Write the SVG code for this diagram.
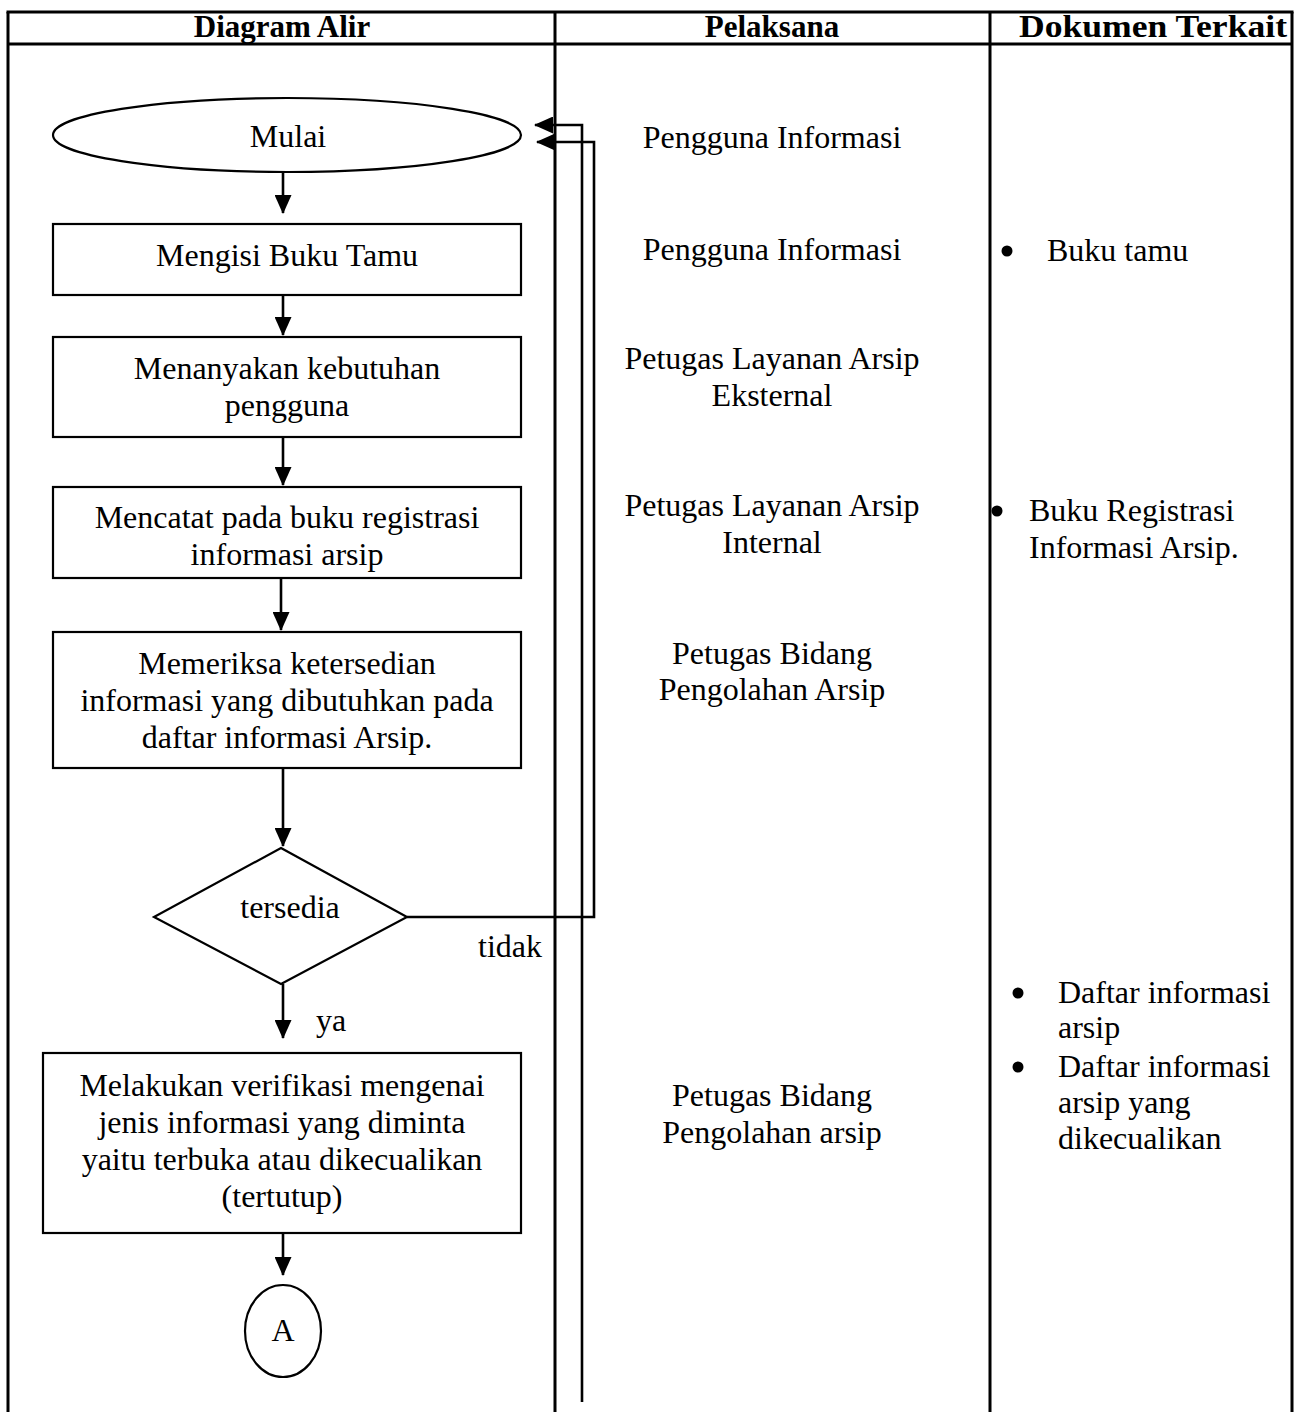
<svg xmlns="http://www.w3.org/2000/svg" width="1298" height="1412" viewBox="0 0 1298 1412">
<style>
.t{font-family:"Liberation Serif","Times New Roman",serif;font-size:32px;fill:#000}
.c{text-anchor:middle}
.h{font-family:"Liberation Serif","Times New Roman",serif;font-size:31px;font-weight:bold;text-anchor:middle;fill:#000}
.grid{stroke:#000;stroke-width:3;fill:none}
.shape{stroke:#000;stroke-width:2.2;fill:#fff}
.conn{stroke:#000;stroke-width:2.6;fill:none}
</style>
<defs>
<marker id="ah" markerUnits="userSpaceOnUse" markerWidth="19" markerHeight="17" refX="18" refY="8.5" orient="auto">
<path d="M0,0 L19,8.5 L0,17 Z" fill="#000"/>
</marker>
</defs>
<rect width="1298" height="1412" fill="#fff"/>
<g id="table">
<line class="grid" x1="6.5" y1="12" x2="1293.5" y2="12"/>
<line class="grid" x1="8" y1="44" x2="1292" y2="44"/>
<line class="grid" x1="8" y1="12" x2="8" y2="1412"/>
<line class="grid" x1="555" y1="12" x2="555" y2="1412"/>
<line class="grid" x1="990" y1="12" x2="990" y2="1412"/>
<line class="grid" x1="1292" y1="12" x2="1292" y2="1412"/>
<text class="h" x="282" y="37">Diagram Alir</text>
<text class="h" x="772" y="37">Pelaksana</text>
<text class="h" x="1153" y="37" textLength="268" lengthAdjust="spacingAndGlyphs">Dokumen Terkait</text>
</g>
<g id="connectors">
<line class="conn" x1="283" y1="172" x2="283" y2="213" marker-end="url(#ah)"/>
<line class="conn" x1="283" y1="295" x2="283" y2="335" marker-end="url(#ah)"/>
<line class="conn" x1="283" y1="437" x2="283" y2="485" marker-end="url(#ah)"/>
<line class="conn" x1="281" y1="578" x2="281" y2="630" marker-end="url(#ah)"/>
<line class="conn" x1="283" y1="768" x2="283" y2="846" marker-end="url(#ah)"/>
<line class="conn" x1="283" y1="984" x2="283" y2="1038" marker-end="url(#ah)"/>
<line class="conn" x1="283" y1="1233" x2="283" y2="1275" marker-end="url(#ah)"/>
<polyline class="conn" points="407,917 594,917 594,142 537,142" marker-end="url(#ah)"/>
<polyline class="conn" points="582,1402 582,125 535,125" marker-end="url(#ah)"/>
<text class="t" x="478" y="957">tidak</text>
<text class="t" x="316" y="1031">ya</text>
</g>
<g id="n-mulai">
<ellipse class="shape" cx="287" cy="135" rx="234" ry="37"/>
<text class="t c" x="288" y="147">Mulai</text>
</g>
<g id="n-bukutamu">
<rect class="shape" x="53" y="224" width="468" height="71"/>
<text class="t c" x="287" y="266">Mengisi Buku Tamu</text>
</g>
<g id="n-menanyakan">
<rect class="shape" x="53" y="337" width="468" height="100"/>
<text class="t c" x="287" y="379">Menanyakan kebutuhan</text>
<text class="t c" x="287" y="416">pengguna</text>
</g>
<g id="n-mencatat">
<rect class="shape" x="53" y="487" width="468" height="91"/>
<text class="t c" x="287" y="528">Mencatat pada buku registrasi</text>
<text class="t c" x="287" y="565">informasi arsip</text>
</g>
<g id="n-memeriksa">
<rect class="shape" x="53" y="632" width="468" height="136"/>
<text class="t c" x="287" y="674">Memeriksa ketersedian</text>
<text class="t c" x="287" y="711">informasi yang dibutuhkan pada</text>
<text class="t c" x="287" y="748">daftar informasi Arsip.</text>
</g>
<g id="n-tersedia">
<polygon class="shape" points="281,848 407,917 281,984 154,917"/>
<text class="t c" x="290" y="918">tersedia</text>
</g>
<g id="n-verifikasi">
<rect class="shape" x="43" y="1053" width="478" height="180"/>
<text class="t c" x="282" y="1096">Melakukan verifikasi mengenai</text>
<text class="t c" x="282" y="1133">jenis informasi yang diminta</text>
<text class="t c" x="282" y="1170">yaitu terbuka atau dikecualikan</text>
<text class="t c" x="282" y="1207">(tertutup)</text>
</g>
<g id="n-a">
<ellipse class="shape" cx="283" cy="1331" rx="38" ry="46"/>
<text class="t c" x="283" y="1341">A</text>
</g>
<g id="pelaksana">
<text class="t c" x="772" y="148">Pengguna Informasi</text>
<text class="t c" x="772" y="260">Pengguna Informasi</text>
<text class="t c" x="772" y="369">Petugas Layanan Arsip</text>
<text class="t c" x="772" y="406">Eksternal</text>
<text class="t c" x="772" y="516">Petugas Layanan Arsip</text>
<text class="t c" x="772" y="553">Internal</text>
<text class="t c" x="772" y="664">Petugas Bidang</text>
<text class="t c" x="772" y="700">Pengolahan Arsip</text>
<text class="t c" x="772" y="1106">Petugas Bidang</text>
<text class="t c" x="772" y="1143">Pengolahan arsip</text>
</g>
<g id="dokumen">
<circle cx="1007" cy="251" r="5.5"/>
<text class="t" x="1047" y="261">Buku tamu</text>
<circle cx="997" cy="511" r="5.5"/>
<text class="t" x="1029" y="521">Buku Registrasi</text>
<text class="t" x="1029" y="558">Informasi Arsip.</text>
<circle cx="1018" cy="993" r="5.5"/>
<text class="t" x="1058" y="1003">Daftar informasi</text>
<text class="t" x="1058" y="1038">arsip</text>
<circle cx="1018" cy="1067" r="5.5"/>
<text class="t" x="1058" y="1077">Daftar informasi</text>
<text class="t" x="1058" y="1113">arsip yang</text>
<text class="t" x="1058" y="1149">dikecualikan</text>
</g>
</svg>
